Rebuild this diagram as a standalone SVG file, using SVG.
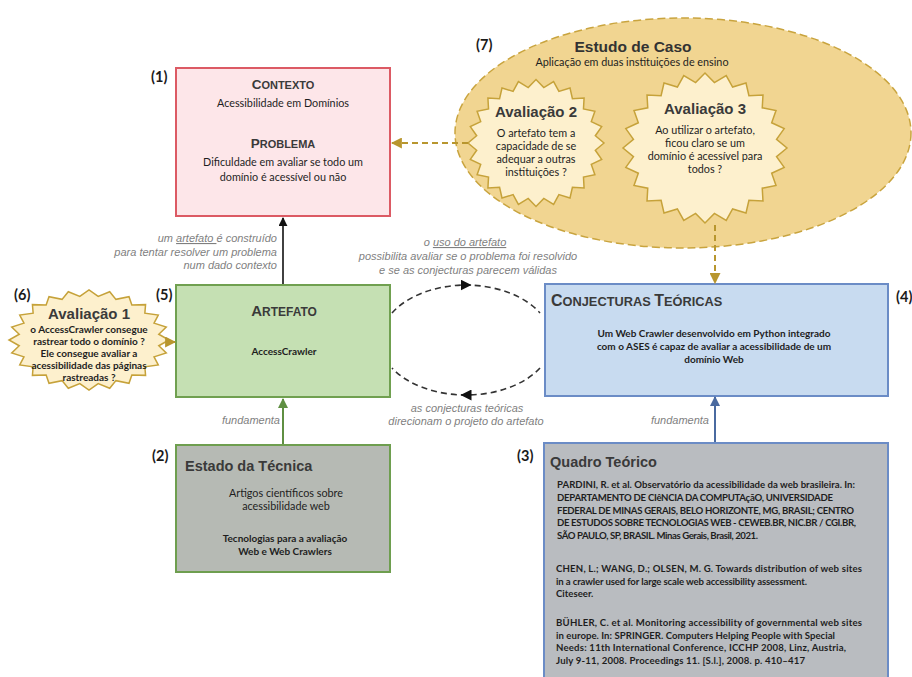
<svg xmlns="http://www.w3.org/2000/svg" xmlns:xlink="http://www.w3.org/1999/xlink" width="912" height="677" viewBox="0 0 912 677">
<style>
.num{font-family:Lato,"Liberation Sans",sans-serif;font-weight:700;font-size:14.5px;fill:#1a1a1a}
.sc{font-family:"Liberation Sans",Arial,sans-serif;font-weight:700;fill:#3a3a3a}
.body{font-family:Lato,"Liberation Sans",sans-serif;font-size:10.8px;fill:#1e1e1e}
.bodyb{font-family:Lato,"Liberation Sans",sans-serif;font-size:10px;font-weight:700;fill:#1e1e1e}
.ref{font-family:Lato,"Liberation Sans",sans-serif;font-size:9.6px;font-weight:700;fill:#1e1e1e}
.av{font-family:"Liberation Sans",Arial,sans-serif;font-size:15px;font-weight:700;fill:#3a3a3a}
.h{font-family:"Liberation Sans",Arial,sans-serif;font-size:14.5px;font-weight:700;fill:#3a3a3a}
.lbl{font-family:"Liberation Sans",Arial,sans-serif;font-size:11px;font-style:italic;fill:#7f7f7f}
.star{fill:#fdf0cd;stroke:#c6a23a;stroke-width:1.5}
.gold{stroke:#b8962e;stroke-width:2;stroke-dasharray:6 4;fill:none}
.cyc{stroke:#333;stroke-width:1.6;stroke-dasharray:6 4;fill:none}
</style>
<defs>
<polygon id="star" vector-effect="non-scaling-stroke" points="100,0 87.24,11.48 96.59,25.88 81.3,33.68 86.6,50 69.82,53.57 70.71,70.71 53.57,69.82 50,86.6 33.68,81.3 25.88,96.59 11.48,87.24 0,100 -11.48,87.24 -25.88,96.59 -33.68,81.3 -50,86.6 -53.57,69.82 -70.71,70.71 -69.82,53.57 -86.6,50 -81.3,33.68 -96.59,25.88 -87.24,11.48 -100,0 -87.24,-11.48 -96.59,-25.88 -81.3,-33.68 -86.6,-50 -69.82,-53.57 -70.71,-70.71 -53.57,-69.82 -50,-86.6 -33.68,-81.3 -25.88,-96.59 -11.48,-87.24 0,-100 11.48,-87.24 25.88,-96.59 33.68,-81.3 50,-86.6 53.57,-69.82 70.71,-70.71 69.82,-53.57 86.6,-50 81.3,-33.68 96.59,-25.88 87.24,-11.48"/>
<marker id="aBlack" viewBox="0 0 10 10" refX="9" refY="5" markerWidth="9" markerHeight="9" markerUnits="userSpaceOnUse" orient="auto"><path d="M0,0 L10,5 L0,10 z" fill="#111"/></marker>
<marker id="aGreen" viewBox="0 0 10 10" refX="9" refY="5" markerWidth="10" markerHeight="10" markerUnits="userSpaceOnUse" orient="auto"><path d="M0,0 L10,5 L0,10 z" fill="#5f8f42"/></marker>
<marker id="aBlue" viewBox="0 0 10 10" refX="9" refY="5" markerWidth="10" markerHeight="10" markerUnits="userSpaceOnUse" orient="auto"><path d="M0,0 L10,5 L0,10 z" fill="#4a6aa0"/></marker>
<marker id="aGold" viewBox="0 0 10 10" refX="9" refY="5" markerWidth="11" markerHeight="11" markerUnits="userSpaceOnUse" orient="auto"><path d="M0,0 L10,5 L0,10 z" fill="#b8962e"/></marker>
<marker id="aCyc" viewBox="0 0 10 10" refX="5" refY="5" markerWidth="11" markerHeight="11" markerUnits="userSpaceOnUse" orient="auto"><path d="M0,0 L10,5 L0,10 z" fill="#111"/></marker>
</defs>
<rect width="912" height="677" fill="#fff"/>

<g id="n-estudo">
<ellipse cx="683" cy="133" rx="228" ry="115" fill="#f1d591" stroke="#c9a43e" stroke-width="1.5" stroke-dasharray="8 4"/>
<text class="num" x="476" y="50">(7)</text>
<text x="633" y="52" text-anchor="middle" font-family="Liberation Sans, Arial, sans-serif" font-size="15.5" font-weight="700" fill="#333">Estudo de Caso</text>
<text class="body" x="632" y="65.5" text-anchor="middle" font-size="10.5">Aplicação em duas instituições de ensino</text>
</g>

<g id="n-av2">
<use xlink:href="#star" href="#star" class="star" transform="translate(536,143) scale(0.68,0.635)"/>
<text class="av" x="536" y="117" text-anchor="middle">Avaliação 2</text>
<text class="body" text-anchor="middle"><tspan x="536" y="136.5">O artefato tem a</tspan><tspan x="536" y="149.8">capacidade de se</tspan><tspan x="536" y="163.1">adequar a outras</tspan><tspan x="536" y="176.4">instituições ?</tspan></text>
</g>

<g id="n-av3">
<use xlink:href="#star" href="#star" class="star" transform="translate(705,148) scale(0.82,0.75)"/>
<text class="av" x="705" y="114" text-anchor="middle">Avaliação 3</text>
<text class="body" text-anchor="middle"><tspan x="705" y="133.5">Ao utilizar o artefato,</tspan><tspan x="705" y="146.8">ficou claro se um</tspan><tspan x="705" y="160.1">domínio é acessível para</tspan><tspan x="705" y="173.4">todos ?</tspan></text>
</g>

<g id="n-contexto">
<rect x="176" y="68" width="214" height="148" fill="#fde6e9" stroke="#dc5a64" stroke-width="2"/>
<text class="num" x="151" y="82">(1)</text>
<text class="sc" x="283" y="89" text-anchor="middle"><tspan font-size="13.5">C</tspan><tspan font-size="11">ONTEXTO</tspan></text>
<text class="body" x="283" y="107" text-anchor="middle">Acessibilidade em Domínios</text>
<text class="sc" x="283" y="148" text-anchor="middle"><tspan font-size="13.5">P</tspan><tspan font-size="11">ROBLEMA</tspan></text>
<text class="body" text-anchor="middle"><tspan x="283" y="166">Dificuldade em avaliar se todo um</tspan><tspan x="283" y="181">domínio é acessível ou não</tspan></text>
</g>

<g id="n-av1">
<use xlink:href="#star" href="#star" class="star" transform="translate(89,340) scale(0.8,0.5)"/>
<text class="num" x="14" y="300">(6)</text>
<text class="av" x="89" y="319" text-anchor="middle">Avaliação 1</text>
<text class="bodyb" text-anchor="middle" font-size="9.6"><tspan x="89" y="333">o AccessCrawler consegue</tspan><tspan x="89" y="345">rastrear todo o domínio ?</tspan><tspan x="89" y="357">Ele consegue avaliar a</tspan><tspan x="89" y="369">acessibilidade das páginas</tspan><tspan x="89" y="381">rastreadas ?</tspan></text>
</g>

<g id="n-artefato">
<rect x="176" y="285" width="214" height="112" fill="#c5e0b3" stroke="#70a050" stroke-width="2"/>
<text class="num" x="156" y="300">(5)</text>
<text class="sc" x="284" y="316" text-anchor="middle"><tspan font-size="15">A</tspan><tspan font-size="12">RTEFATO</tspan></text>
<text class="bodyb" x="284" y="355" text-anchor="middle">AccessCrawler</text>
</g>

<g id="n-conjecturas">
<rect x="545" y="284" width="343" height="112" fill="#c8dbf0" stroke="#6b8cc6" stroke-width="2"/>
<text class="num" x="896" y="302">(4)</text>
<text class="sc" x="551" y="306"><tspan font-size="16">C</tspan><tspan font-size="12.8">ONJECTURAS </tspan><tspan font-size="16">T</tspan><tspan font-size="12.8">EÓRICAS</tspan></text>
<text class="bodyb" text-anchor="middle"><tspan x="714" y="337">Um Web Crawler desenvolvido em Python integrado</tspan><tspan x="714" y="350">com o ASES é capaz de avaliar a acessibilidade de um</tspan><tspan x="714" y="363">domínio Web</tspan></text>
</g>

<g id="n-estado">
<rect x="176" y="445" width="214" height="127" fill="#b6bab4" stroke="#6e9e4f" stroke-width="2"/>
<text class="num" x="152" y="461">(2)</text>
<text class="h" x="185" y="471">Estado da Técnica</text>
<text class="body" text-anchor="middle"><tspan x="286" y="497">Artigos científicos sobre</tspan><tspan x="286" y="510">acessibilidade web</tspan></text>
<text class="bodyb" text-anchor="middle"><tspan x="285" y="542">Tecnologias para a avaliação</tspan><tspan x="285" y="555">Web e Web Crawlers</tspan></text>
</g>

<g id="n-quadro">
<rect x="544" y="443" width="344" height="260" fill="#b9bcc0" stroke="#6b8cc6" stroke-width="2"/>
<text class="num" x="517" y="461">(3)</text>
<text class="h" x="550" y="467">Quadro Teórico</text>
<text class="ref" lengthAdjust="spacingAndGlyphs">
<tspan x="557" y="488" textLength="298">PARDINI, R. et al. Observatório da acessibilidade da web brasileira. In:</tspan>
<tspan x="557" y="500.8" textLength="276">DEPARTAMENTO DE CIêNCIA DA COMPUTAçãO, UNIVERSIDADE</tspan>
<tspan x="557" y="513.6" textLength="297">FEDERAL DE MINAS GERAIS, BELO HORIZONTE, MG, BRASIL; CENTRO</tspan>
<tspan x="557" y="526.4" textLength="299">DE ESTUDOS SOBRE TECNOLOGIAS WEB - CEWEB.BR, NIC.BR / CGI.BR,</tspan>
<tspan x="557" y="539.2" textLength="201">SÃO PAULO, SP, BRASIL. Minas Gerais, Brasil, 2021.</tspan>
<tspan x="556" y="572" textLength="306">CHEN, L.; WANG, D.; OLSEN, M. G. Towards distribution of web sites</tspan>
<tspan x="556" y="584.7" textLength="251">in a crawler used for large scale web accessibility assessment.</tspan>
<tspan x="556" y="597.4">Citeseer.</tspan>
<tspan x="556" y="626" textLength="306">BÜHLER, C. et al. Monitoring accessibility of governmental web sites</tspan>
<tspan x="556" y="638.7" textLength="279">in europe. In: SPRINGER. Computers Helping People with Special</tspan>
<tspan x="556" y="651.4" textLength="290">Needs: 11th International Conference, ICCHP 2008, Linz, Austria,</tspan>
<tspan x="556" y="664.1" textLength="249">July 9-11, 2008. Proceedings 11. [S.l.], 2008. p. 410–417</tspan>
</text>
</g>

<g id="connectors">
<line x1="283" y1="284" x2="283" y2="218" stroke="#111" stroke-width="1.6" marker-end="url(#aBlack)"/>
<line x1="283" y1="444" x2="283" y2="399" stroke="#5f8f42" stroke-width="2" marker-end="url(#aGreen)"/>
<line x1="715" y1="442" x2="715" y2="397" stroke="#4a6aa0" stroke-width="2" marker-end="url(#aBlue)"/>
<line x1="468" y1="143" x2="392" y2="143" class="gold" marker-end="url(#aGold)"/>
<line x1="715" y1="225" x2="715" y2="283" class="gold" marker-end="url(#aGold)"/>
<line x1="166" y1="342" x2="175" y2="342" stroke="#b8962e" stroke-width="2" marker-end="url(#aGold)"/>
<path class="cyc" d="M392 313 A86 55 0 0 1 466 285 A86 55 0 0 1 540 313" marker-mid="url(#aCyc)"/>
<path class="cyc" d="M540 368 A86 55 0 0 1 466 395 A86 55 0 0 1 392 368" marker-mid="url(#aCyc)"/>
</g>

<g id="labels">
<text class="lbl" text-anchor="end"><tspan x="277" y="242">um <tspan text-decoration="underline">artefato </tspan>é construído</tspan><tspan x="277" y="256">para tentar resolver um problema</tspan><tspan x="277" y="269">num dado contexto</tspan></text>
<text class="lbl" text-anchor="middle"><tspan x="465" y="246">o <tspan text-decoration="underline">uso do artefato</tspan></tspan><tspan x="468" y="260">possibilita avaliar se o problema foi resolvido</tspan><tspan x="468" y="274">e se as conjecturas parecem válidas</tspan></text>
<text class="lbl" text-anchor="middle"><tspan x="467" y="412">as conjecturas teóricas</tspan><tspan x="466" y="425">direcionam o projeto do artefato</tspan></text>
<text class="lbl" x="280" y="424" text-anchor="end">fundamenta</text>
<text class="lbl" x="709" y="424" text-anchor="end">fundamenta</text>
</g>
</svg>
